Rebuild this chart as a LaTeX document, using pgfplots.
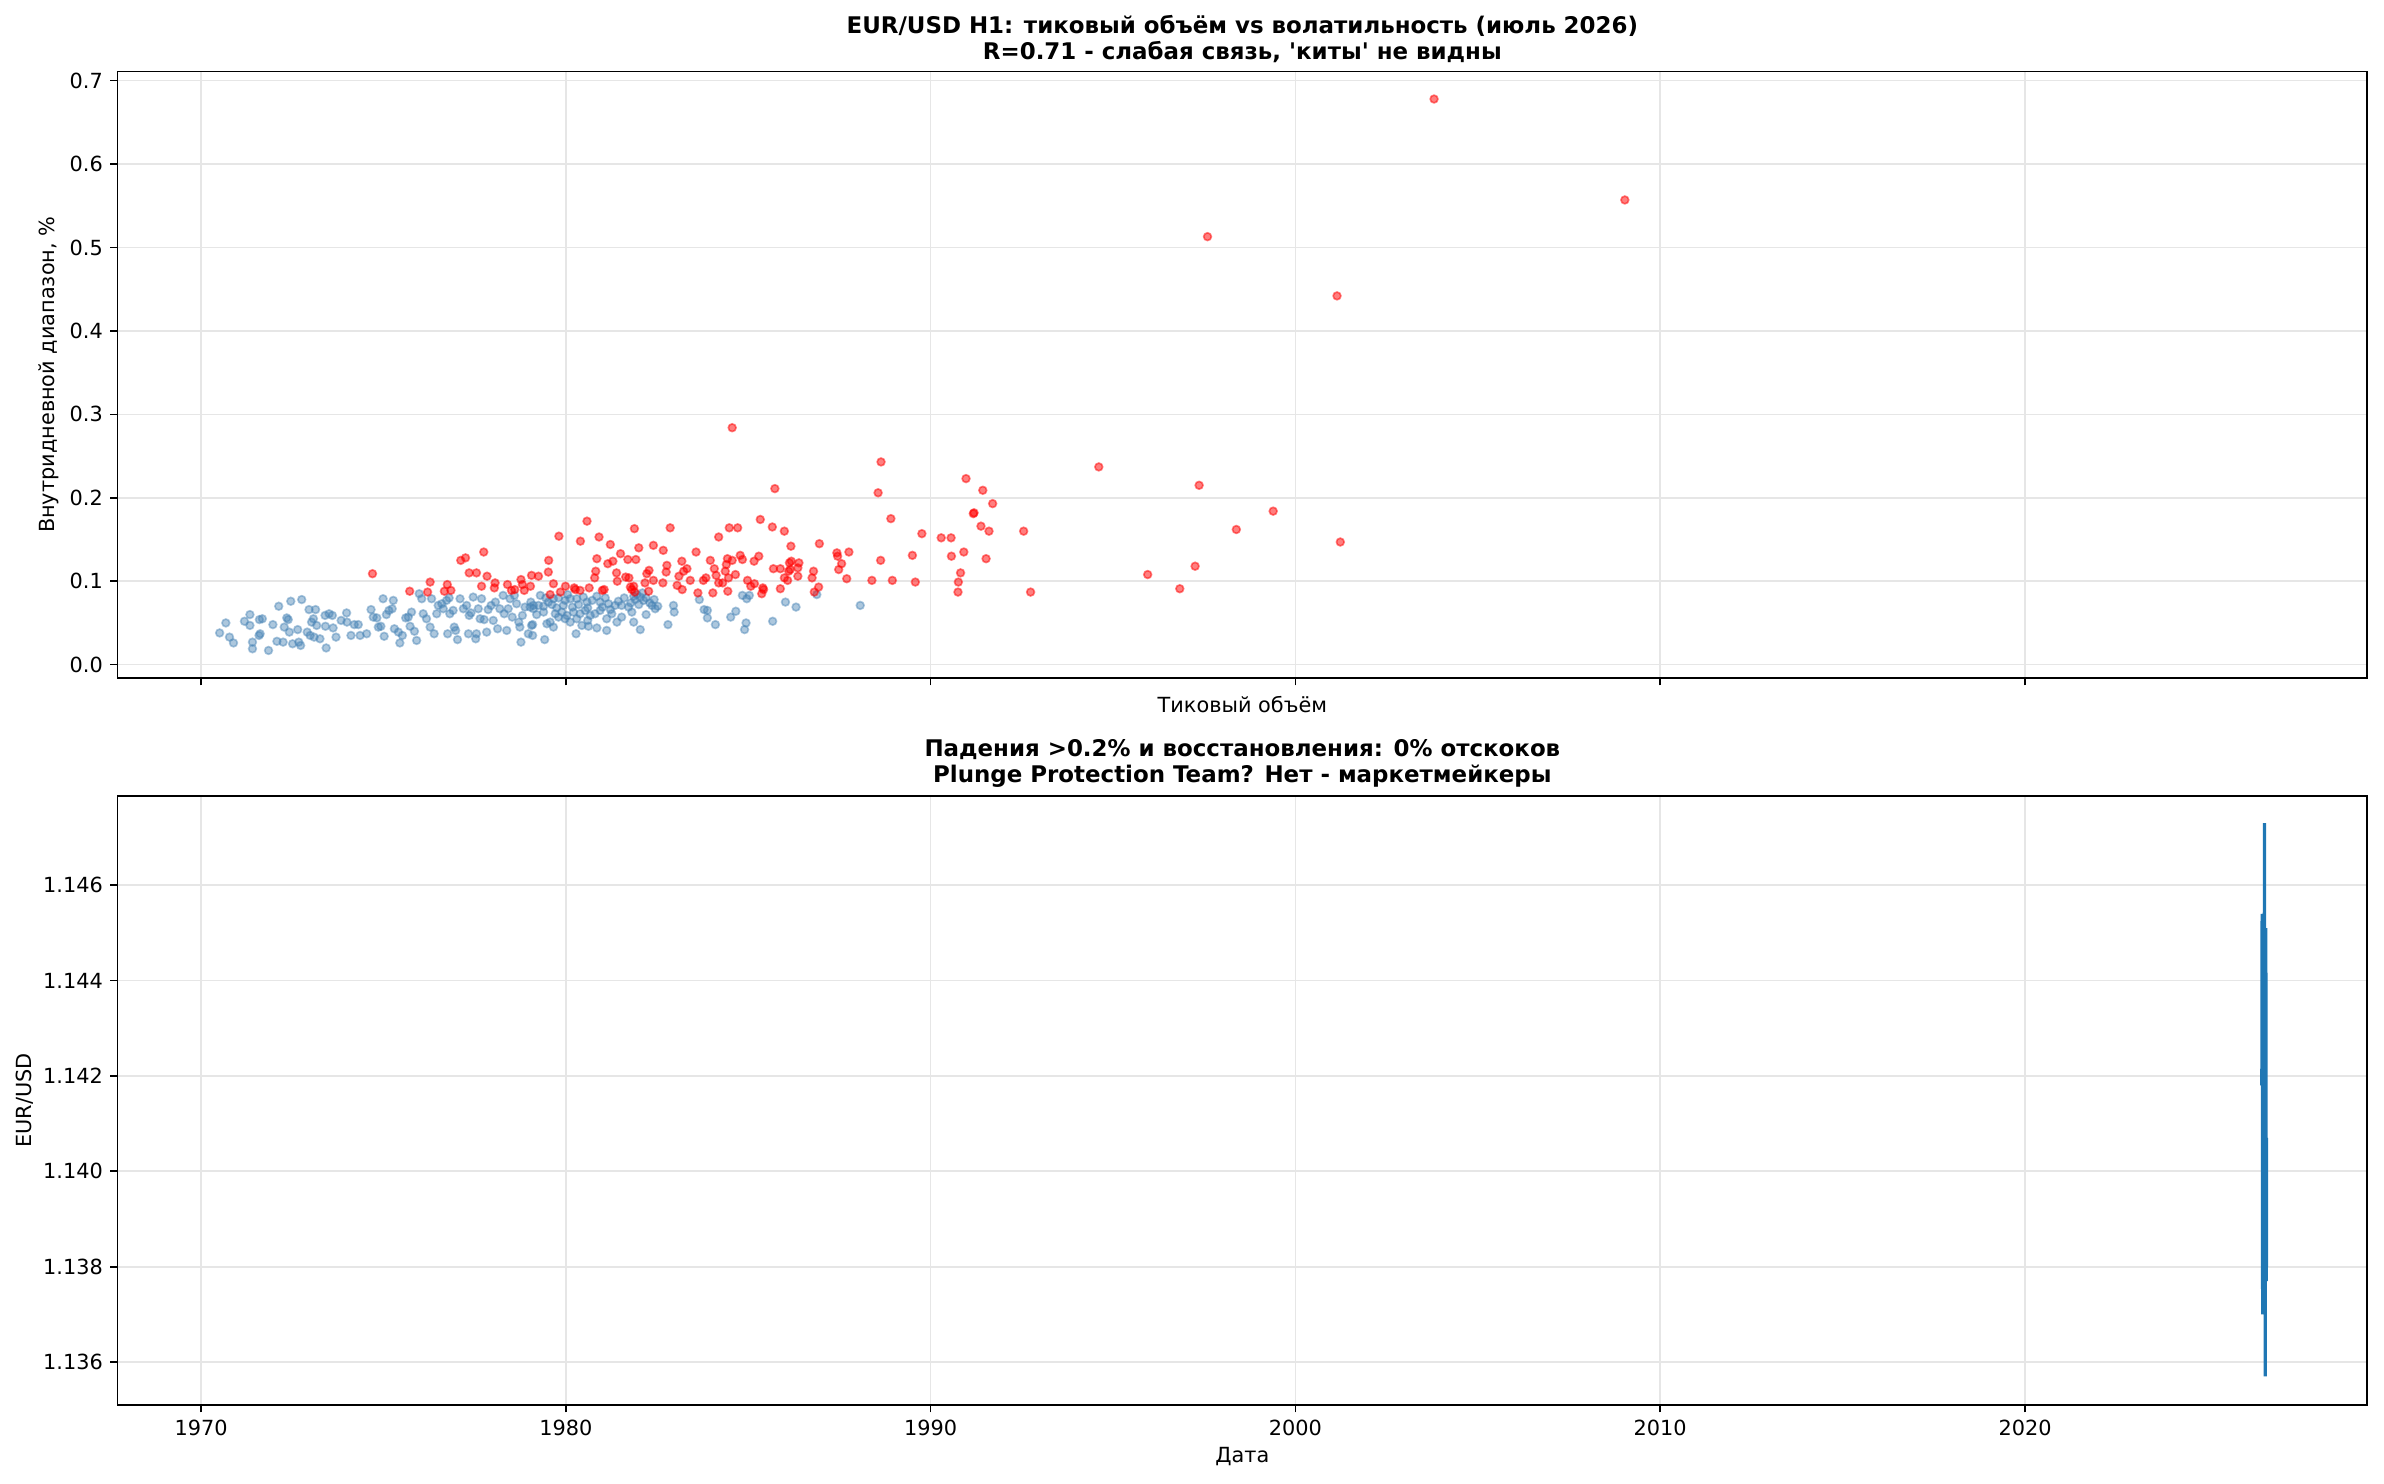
\documentclass[border=0pt]{standalone}
\usepackage{fontspec}
\setmainfont{DejaVu Sans}
\usepackage{pgfplots}
\usepackage{pgfplotstable}
\pgfplotsset{compat=1.18}
\definecolor{steel}{RGB}{70,130,180}
\definecolor{tabblue}{RGB}{31,119,180}
\definecolor{gridc}{RGB}{230,230,230}

\pgfplotstableread{
x y
1970.51 0.038
1970.68 0.050
1970.78 0.033
1970.89 0.026
1971.19 0.052
1971.34 0.060
1971.34 0.047
1971.41 0.027
1971.41 0.019
1971.59 0.035
1971.62 0.037
1971.60 0.054
1971.68 0.055
1971.85 0.017
1971.97 0.048
1972.08 0.028
1972.13 0.070
1972.25 0.027
1972.28 0.045
1972.35 0.056
1972.39 0.054
1972.42 0.039
1972.46 0.076
1972.51 0.025
1972.65 0.042
1972.68 0.027
1972.73 0.023
1972.76 0.078
1972.91 0.039
1972.96 0.066
1972.99 0.035
1973.03 0.051
1973.08 0.055
1973.10 0.033
1973.14 0.066
1973.17 0.047
1973.26 0.031
1973.40 0.059
1973.41 0.046
1973.43 0.020
1973.51 0.061
1973.60 0.059
1973.62 0.044
1973.70 0.033
1973.84 0.053
1973.99 0.062
1974.00 0.051
1974.11 0.035
1974.20 0.048
1974.31 0.048
1974.36 0.035
1974.54 0.037
1974.66 0.066
1974.72 0.057
1974.82 0.056
1974.86 0.045
1974.93 0.046
1974.99 0.079
1975.02 0.034
1975.08 0.060
1975.15 0.065
1975.24 0.067
1975.27 0.077
1975.30 0.043
1975.41 0.039
1975.45 0.026
1975.52 0.035
1975.61 0.056
1975.68 0.057
1975.73 0.046
1975.77 0.063
1975.85 0.040
1975.91 0.029
1975.98 0.085
1976.05 0.079
1976.09 0.061
1976.18 0.055
1976.28 0.045
1976.32 0.079
1976.39 0.037
1976.46 0.061
1976.50 0.071
1976.60 0.073
1976.64 0.067
1976.73 0.077
1976.76 0.037
1976.80 0.080
1976.82 0.061
1976.91 0.065
1976.94 0.045
1976.98 0.041
1977.03 0.030
1977.10 0.079
1977.19 0.067
1977.28 0.071
1977.33 0.037
1977.35 0.059
1977.40 0.062
1977.46 0.081
1977.53 0.031
1977.55 0.037
1977.60 0.067
1977.65 0.055
1977.69 0.079
1977.76 0.054
1977.83 0.039
1977.87 0.066
1977.95 0.071
1978.01 0.053
1978.07 0.075
1978.13 0.043
1978.19 0.067
1978.28 0.083
1978.31 0.061
1978.38 0.041
1978.42 0.067
1978.47 0.079
1978.53 0.057
1978.59 0.083
1978.65 0.073
1978.71 0.051
1978.74 0.045
1978.77 0.027
1978.81 0.059
1978.88 0.069
1978.97 0.037
1979.04 0.075
1979.06 0.047
1979.02 0.069
1979.11 0.071
1979.25 0.071
1979.39 0.070
1979.52 0.075
1979.66 0.079
1979.80 0.080
1979.98 0.077
1980.12 0.079
1980.30 0.079
1980.58 0.075
1980.85 0.082
1980.94 0.075
1981.17 0.073
1981.35 0.071
1981.53 0.071
1981.72 0.069
1981.86 0.082
1981.95 0.084
1982.04 0.081
1982.13 0.077
1982.36 0.071
1982.45 0.067
1979.11 0.067
1979.39 0.063
1979.57 0.051
1979.71 0.061
1979.89 0.063
1980.03 0.059
1980.21 0.063
1980.39 0.061
1980.53 0.065
1980.67 0.059
1980.80 0.061
1980.94 0.065
1981.12 0.055
1981.26 0.061
1981.53 0.057
1981.81 0.063
1979.48 0.049
1979.66 0.045
1979.98 0.055
1980.12 0.051
1980.30 0.055
1980.44 0.047
1980.62 0.046
1980.85 0.044
1981.12 0.041
1980.28 0.037
1979.09 0.048
1979.09 0.035
1979.42 0.030
1982.04 0.042
1981.86 0.051
1982.95 0.071
1982.97 0.063
1982.80 0.048
1983.66 0.078
1983.79 0.066
1983.88 0.065
1983.88 0.056
1984.10 0.048
1984.52 0.057
1984.66 0.064
1984.84 0.083
1984.96 0.079
1985.03 0.083
1984.94 0.050
1984.90 0.042
1985.67 0.052
1986.02 0.075
1986.31 0.069
1986.88 0.084
1988.07 0.071
1979.30 0.083
1979.45 0.080
1979.62 0.072
1979.75 0.068
1979.93 0.071
1980.05 0.084
1980.18 0.069
1980.35 0.072
1980.48 0.081
1980.60 0.068
1980.72 0.077
1981.00 0.069
1981.08 0.080
1981.22 0.066
1981.44 0.076
1981.60 0.080
1981.78 0.074
1981.90 0.078
1982.00 0.072
1982.10 0.086
1982.20 0.080
1982.30 0.074
1982.42 0.078
1982.52 0.070
1979.20 0.060
1979.80 0.057
1980.60 0.053
1981.40 0.051
1982.20 0.060
}\bluedata

\pgfplotstableread{
x y
1974.70 0.109
1975.72 0.088
1976.21 0.087
1976.28 0.099
1976.75 0.096
1976.67 0.088
1976.85 0.089
1977.12 0.125
1977.25 0.128
1977.75 0.135
1977.35 0.110
1977.55 0.110
1977.84 0.106
1977.69 0.094
1978.06 0.098
1978.04 0.092
1978.40 0.096
1978.51 0.089
1978.60 0.090
1978.77 0.102
1978.81 0.096
1978.86 0.089
1979.03 0.094
1979.06 0.107
1980.58 0.172
1979.81 0.154
1980.40 0.148
1980.91 0.153
1981.22 0.144
1981.88 0.163
1982.86 0.164
1982.00 0.140
1981.50 0.133
1980.85 0.127
1979.53 0.125
1979.52 0.111
1981.15 0.121
1981.29 0.124
1981.70 0.126
1981.92 0.126
1982.40 0.143
1982.67 0.137
1980.82 0.112
1981.39 0.110
1980.79 0.104
1981.64 0.105
1981.73 0.104
1982.22 0.109
1982.28 0.113
1982.77 0.119
1982.75 0.111
1982.40 0.101
1982.17 0.098
1982.66 0.098
1981.41 0.100
1979.25 0.106
1979.66 0.097
1979.99 0.094
1980.23 0.092
1980.26 0.090
1980.39 0.089
1980.64 0.092
1981.00 0.089
1981.05 0.090
1979.85 0.087
1979.57 0.084
1981.77 0.093
1981.81 0.090
1981.86 0.094
1982.27 0.088
1981.89 0.087
1983.57 0.135
1983.18 0.124
1983.32 0.115
1983.23 0.112
1983.10 0.106
1983.05 0.095
1983.19 0.090
1983.41 0.101
1983.62 0.086
1983.77 0.101
1983.84 0.104
1984.03 0.086
1984.19 0.153
1983.96 0.125
1984.07 0.115
1984.12 0.107
1984.19 0.098
1984.37 0.112
1984.48 0.164
1984.71 0.164
1984.43 0.127
1984.56 0.125
1984.40 0.120
1984.46 0.104
1984.30 0.098
1984.65 0.108
1984.78 0.131
1984.84 0.126
1984.44 0.088
1984.98 0.101
1985.07 0.094
1985.17 0.097
1985.16 0.124
1985.29 0.130
1985.33 0.174
1985.66 0.165
1985.99 0.160
1986.17 0.142
1985.69 0.115
1985.88 0.115
1986.11 0.112
1986.15 0.114
1986.13 0.122
1986.18 0.124
1986.39 0.122
1986.36 0.116
1986.36 0.106
1986.08 0.101
1985.99 0.104
1985.40 0.092
1985.37 0.085
1985.42 0.090
1985.88 0.091
1986.95 0.145
1986.79 0.112
1986.75 0.104
1986.93 0.093
1986.81 0.087
1987.43 0.134
1987.45 0.130
1987.56 0.121
1987.48 0.114
1987.76 0.135
1987.70 0.103
1988.39 0.101
1988.63 0.125
1988.95 0.101
1988.91 0.175
1989.50 0.131
1989.58 0.099
1989.76 0.157
1990.29 0.152
1990.56 0.152
1991.38 0.166
1991.60 0.160
1992.55 0.160
1990.57 0.130
1990.91 0.135
1991.52 0.127
1990.82 0.110
1990.76 0.099
1990.75 0.087
1992.74 0.087
1994.61 0.237
1997.36 0.215
1999.39 0.184
1998.38 0.162
2001.23 0.147
1995.95 0.108
1997.25 0.118
1996.83 0.091
1984.56 0.284
1988.64 0.243
1985.73 0.211
1988.56 0.206
1990.97 0.223
1991.43 0.209
1991.70 0.193
1991.17 0.181
1991.19 0.182
2003.80 0.678
2009.03 0.557
1997.59 0.513
2001.14 0.442
}\reddata

\pgfplotstableread{
x y
2026.490 1.1418
2026.493 1.1431
2026.496 1.1445
2026.498 1.1454
2026.501 1.1440
2026.504 1.1422
2026.507 1.1405
2026.509 1.1388
2026.512 1.1372
2026.515 1.1370
2026.518 1.1384
2026.521 1.1401
2026.524 1.1396
2026.527 1.1412
2026.530 1.1428
2026.533 1.1419
2026.536 1.1436
2026.539 1.1447
2026.542 1.1432
2026.545 1.1415
2026.548 1.1398
2026.551 1.1409
2026.554 1.1426
2026.557 1.1441
2026.560 1.1458
2026.563 1.1473
2026.566 1.1455
2026.569 1.1437
2026.572 1.1418
2026.575 1.1399
2026.578 1.1382
2026.581 1.1371
2026.584 1.1357
2026.587 1.1376
2026.590 1.1393
2026.593 1.1410
2026.596 1.1428
2026.599 1.1445
2026.602 1.1451
2026.605 1.1436
2026.608 1.1417
2026.611 1.1398
2026.614 1.1384
2026.617 1.1377
2026.620 1.1392
2026.623 1.1407
}\pricedata

\pgfplotsset{
  every axis title/.style={at={(0.5,1)}, anchor=south, yshift=0.5pt,
    font=\fontsize{11}{12.5}\selectfont\bfseries, align=center},
  common/.style={
    scale only axis,
    width=1079.76pt,
    xmin=1967.71, xmax=2029.38,
    xtick={1970,1980,1990,2000,2010,2020},
    grid=major,
    major grid style={gridc, line width=0.8pt},
    tick align=outside,
    tick pos=left,
    major tick length=3.5pt,
    every tick/.style={black, line width=0.8pt},
    axis line style={line width=0.8pt},
    tick label style={font=\fontsize{10}{12}\selectfont},
    label style={font=\fontsize{10}{12}\selectfont},
    /pgf/number format/assume math mode=true,
    xticklabel style={/pgf/number format/1000 sep={}},
  }
}

\begin{document}
\begin{tikzpicture}
\path[use as bounding box] (0,0) rectangle (1144.32pt,711.84pt);

\begin{axis}[common,
  at={(56.4pt,386.4pt)}, anchor=south west,
  height=291.12pt,
  ymin=-0.016, ymax=0.711,
  ytick={0,0.1,0.2,0.3,0.4,0.5,0.6,0.7},
  yticklabel style={/pgf/number format/.cd, fixed, fixed zerofill, precision=1},
  xticklabels={},
  xlabel={Тиковый объём},
  xlabel style={at={(axis description cs:0.5,-0.0561)}, anchor=base},
  ylabel={Внутридневной диапазон, \%},
  ylabel style={at={(axis description cs:-0.03045,0.5)}, anchor=center},
  title={EUR/USD H1: тиковый объём vs волатильность (июль 2026)\\R=0.71 - слабая связь, \textquotesingle киты\textquotesingle{} не видны},
]
\addplot[only marks, mark=*, mark size=1.85pt,
  mark options={draw=steel, fill=steel, line width=0.8pt, draw opacity=0.45, fill opacity=0.45}]
  table[x=x, y=y] {\bluedata};
\addplot[only marks, mark=*, mark size=1.85pt,
  mark options={draw=red, fill=red, line width=0.8pt, draw opacity=0.5, fill opacity=0.5}]
  table[x=x, y=y] {\reddata};
\end{axis}

\begin{axis}[common,
  at={(56.4pt,37.44pt)}, anchor=south west,
  height=292.32pt,
  ymin=1.1351, ymax=1.14787,
  ytick={1.136,1.138,1.140,1.142,1.144,1.146},
  yticklabel style={/pgf/number format/.cd, fixed, fixed zerofill, precision=3},
  xlabel={Дата},
  xlabel style={at={(axis description cs:0.5,-0.0952)}, anchor=base},
  ylabel={EUR/USD},
  ylabel style={at={(axis description cs:-0.04112,0.5)}, anchor=center},
  title={Падения >0.2\% и восстановления: 0\% отскоков\\Plunge Protection Team? Нет - маркетмейкеры},
]
\addplot[tabblue, line width=1.5pt, no marks] table[x=x, y=y] {\pricedata};
\end{axis}
\end{tikzpicture}
\end{document}
